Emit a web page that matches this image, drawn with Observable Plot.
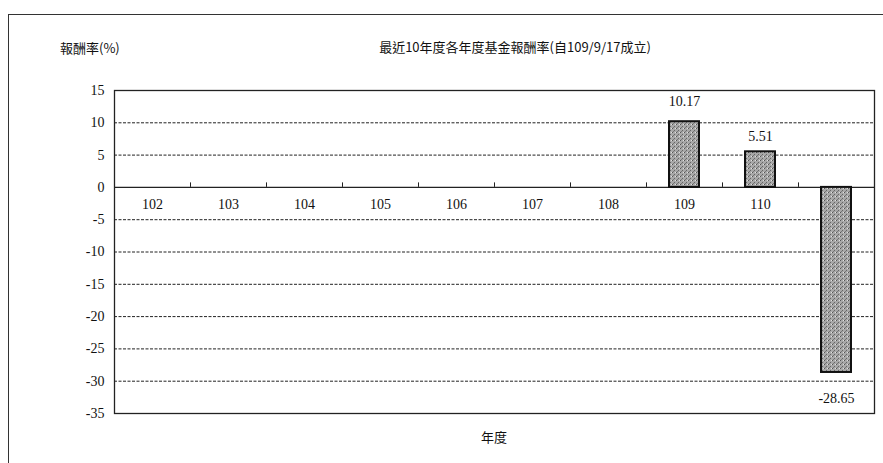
<!DOCTYPE html>
<html><head><meta charset="utf-8">
<script src="https://cdn.jsdelivr.net/npm/d3@7"></script>
<script src="https://cdn.jsdelivr.net/npm/@observablehq/plot@0.6"></script>
<style>
body{margin:0;background:#fff;}
#wrap{position:relative;width:883px;height:463px;overflow:hidden;font-family:"Liberation Serif",serif;background:#fff;}
#wrap svg{position:absolute;left:0;top:0;background:transparent;}
.t{position:absolute;font-family:"Noto Sans CJK TC","Liberation Serif",serif;font-size:13px;color:#111;white-space:nowrap;z-index:2;}
#border{position:absolute;left:8px;top:14px;width:900px;height:460px;border-left:1.5px solid #333;border-top:1.5px solid #333;z-index:3;}
</style></head>
<body><div id="wrap"></div>
<script>
const years = ["102","103","104","105","106","107","108","109","110","111"];
const returns = [null,null,null,null,null,null,null,10.17,5.51,-28.65];
const yTicks = [15,10,5,0,-5,-10,-15,-20,-25,-30,-35];
const gridLines = [10,5,-5,-10,-15,-20,-25,-30];
const titleText = "最近10年度各年度基金報酬率(自109/9/17成立)";
const yLabel = "報酬率(%)";
const xLabel = "年度";

const data = years.map((y,i)=>({year:y, i, value:returns[i]}));
const bars = data.filter(d=>d.value!=null);
const bounds = d3.range(1, years.length);

const chart = Plot.plot({
  width: 883, height: 463,
  marginLeft: 114, marginRight: 9, marginTop: 90, marginBottom: 50,
  x: {type:"linear", domain:[0, years.length], axis:null},
  y: {domain:[-35,15], label:null, axis:null},
  style:{fontFamily:"Liberation Serif, serif", fontSize:"14px", color:"#111", background:"transparent"},
  marks: [
    Plot.axisY({ticks:yTicks, tickSize:0, tickPadding:10, fontSize:14, label:null, tickFormat:d=>String(d)}),
    Plot.ruleY(gridLines, {stroke:"#222", strokeDasharray:"3,1.5", strokeWidth:1}),
    Plot.ruleY([0], {stroke:"#222", strokeWidth:1.2}),
    Plot.ruleX(bounds, {x:d=>d, y1:0, y2:0.7, stroke:"#222", strokeWidth:1}),
    Plot.text(data, {x:d=>d.i+0.5, y:0, text:"year", dy:17, fontSize:14, fill:"#111"}),
    Plot.rectY(bars, {x1:"i", x2:d=>d.i+1, y1:0, y2:"value", insetLeft:23, insetRight:23, fill:"url(#stipple)", stroke:"#111", strokeWidth:2}),
    Plot.text(bars.filter(d=>d.value>8), {x:d=>d.i+0.5, y:"value", text:d=>d.value.toFixed(2), dy:-20, fontSize:14, fill:"#111"}),
    Plot.text(bars.filter(d=>d.value>0 && d.value<=8), {x:d=>d.i+0.5, y:"value", text:d=>d.value.toFixed(2), dy:-15, fontSize:14, fill:"#111"}),
    Plot.text(bars.filter(d=>d.value<0), {x:d=>d.i+0.5, y:"value", text:d=>d.value.toFixed(2), dy:26, fontSize:14, fill:"#111"}),
    Plot.frame({stroke:"#222", strokeWidth:1.3})
  ]
});
const wrap = document.getElementById("wrap");
wrap.appendChild(chart);

// stipple texture for bars
const defs = d3.select(chart).insert("defs", ":first-child");
const pat = defs.append("pattern").attr("id","stipple").attr("width",4).attr("height",4).attr("patternUnits","userSpaceOnUse");
pat.append("rect").attr("width",4).attr("height",4).attr("fill","#a8a8a8");
pat.append("rect").attr("x",0).attr("y",0).attr("width",1).attr("height",1).attr("fill","#555");
pat.append("rect").attr("x",2).attr("y",2).attr("width",1).attr("height",1).attr("fill","#666");
pat.append("rect").attr("x",3).attr("y",0).attr("width",1).attr("height",1).attr("fill","#e0e0e0");
pat.append("rect").attr("x",1).attr("y",3).attr("width",1).attr("height",1).attr("fill","#777");

const border = document.createElement("div"); border.id="border"; wrap.appendChild(border);
function addText(txt, left, top, extra){
  const el = document.createElement("div");
  el.className="t"; el.textContent=txt;
  el.style.left=left+"px"; el.style.top=top+"px";
  if(extra) Object.assign(el.style, extra);
  wrap.appendChild(el);
}
addText(titleText, 515, 37, {transform:"translateX(-50%)"});
addText(yLabel, 60, 38);
addText(xLabel, 494, 427, {transform:"translateX(-50%)"});
</script></body></html>
